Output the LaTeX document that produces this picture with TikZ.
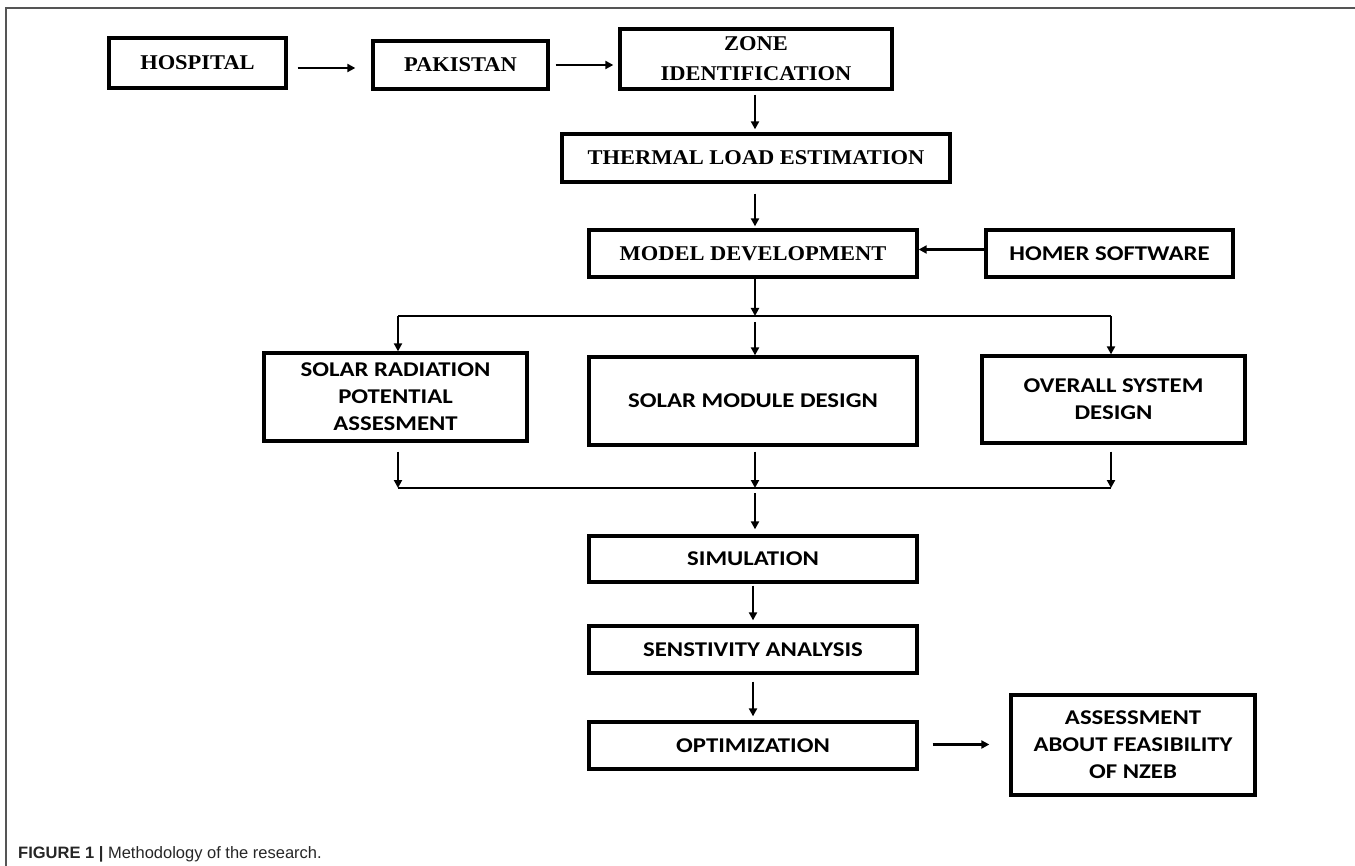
\documentclass[tikz,border=0pt]{standalone}
\usepackage{fontspec}
\usepackage{tikz}
\usetikzlibrary{calc,arrows.meta}
\newfontfamily\boxserif[FakeStretch=1.07]{Liberation Serif}
\newfontfamily\boxsans[FakeStretch=1.18]{Carlito}
\newfontfamily\capfont{Liberation Sans}
\definecolor{framec}{HTML}{555555}
\tikzset{
  ar/.style={-{Triangle[length=8pt,width=8pt]},line width=2.6pt,black},
  bus/.style={line width=2.6pt,black},
  box/.style={draw=black,line width=3.3pt,align=center,inner sep=0pt,font=\boxserif\bfseries\fontsize{21}{30}\selectfont},
  sbox/.style={draw=black,line width=3.3pt,align=center,inner sep=0pt,font=\boxsans\bfseries\fontsize{21}{27}\selectfont}
}

\begin{document}
\begin{tikzpicture}[x=1pt,y=-1pt]
\useasboundingbox (0,0) rectangle (1355,866);
\draw[framec,line width=1.6pt] (6,866) -- (6,8) -- (1355,8);
% top row and main column
\node[box,minimum width=177pt,minimum height=50pt] (hosp) at (197.5,63) {HOSPITAL};
\node[box,minimum width=175pt,minimum height=48pt] (pak) at (460.5,65) {PAKISTAN};
\node[box,minimum width=272pt,minimum height=60pt] (zone) at (756,59) {ZONE\\IDENTIFICATION};
\node[box,minimum width=388pt,minimum height=48pt] (therm) at (756,158) {THERMAL LOAD ESTIMATION};
\node[box,minimum width=328pt,minimum height=47pt] (model) at (753,253.5) {MODEL DEVELOPMENT};
\node[sbox,minimum width=247pt,minimum height=47pt] (homer) at (1109.5,253.5) {HOMER SOFTWARE};
\node[sbox,minimum width=263pt,minimum height=88pt] (srad) at (395.5,397) {SOLAR RADIATION\\POTENTIAL\\ASSESMENT};
\node[sbox,minimum width=328pt,minimum height=88pt] (smod) at (753,401) {SOLAR MODULE DESIGN};
\node[sbox,minimum width=263pt,minimum height=87pt] (osys) at (1113.5,399.5) {OVERALL SYSTEM\\DESIGN};
\node[sbox,minimum width=328pt,minimum height=46pt] (sim) at (753,559) {SIMULATION};
\node[sbox,minimum width=328pt,minimum height=47pt] (sens) at (753,649.5) {SENSTIVITY ANALYSIS};
\node[sbox,minimum width=328pt,minimum height=47pt] (opt) at (753,745.5) {OPTIMIZATION};
\node[sbox,minimum width=244pt,minimum height=100pt] (assess) at (1133,745) {ASSESSMENT\\ABOUT FEASIBILITY\\OF NZEB};
% bus lines
\coordinate (bl1) at (398,316); \coordinate (bm1) at (755,316); \coordinate (br1) at (1111,316);
\coordinate (bl2) at (398,488); \coordinate (bm2) at (755,488); \coordinate (br2) at (1111,488);
\draw[bus] (bl1) -- (br1);
\draw[bus] (bl2) -- (br2);
% arrows
\draw[ar,shorten <=10pt,shorten >=16pt] ([yshift=-5pt]hosp.east) -- ([yshift=-5pt]hosp.east -| pak.west);
\draw[ar,shorten <=6pt,shorten >=5pt] (pak.east) -- (pak.east -| zone.west);
\draw[ar,shorten <=4pt,shorten >=3pt] (zone.south -| bm1) -- (therm.north -| bm1);
\draw[ar,shorten <=10pt,shorten >=2pt] (therm.south -| bm1) -- (model.north -| bm1);
\draw[ar] ([yshift=4pt]homer.west) -- ([yshift=4pt]homer.west -| model.east);
\draw[ar] (model.south -| bm1) -- (bm1);
\draw[ar] (bl1) -- (bl1 |- srad.north);
\draw[ar,shorten <=6pt] (bm1) -- (bm1 |- smod.north);
\draw[ar] (br1) -- (br1 |- osys.north);
\draw[ar,shorten <=9pt] (bl2 |- srad.south) -- (bl2);
\draw[ar,shorten <=5pt] (bm2 |- smod.south) -- (bm2);
\draw[ar,shorten <=7pt] (br2 |- osys.south) -- (br2);
\draw[ar,shorten <=5pt,shorten >=5pt] (bm2) -- (bm2 |- sim.north);
\draw[ar,shorten <=2pt,shorten >=4pt] (sim.south) -- (sens.north);
\draw[ar,shorten <=7pt,shorten >=4pt] (sens.south) -- (opt.north);
\draw[ar,shorten <=14pt,shorten >=20pt] ([yshift=1pt]opt.east) -- ([yshift=1pt]opt.east -| assess.west);
% caption
\node[anchor=base west,inner sep=0pt,text=black!85,font=\capfont\fontsize{16.5}{20}\selectfont] (cap) at (18,858) {\textbf{FIGURE 1 |} Methodology of the research.};
\end{tikzpicture}
\end{document}
